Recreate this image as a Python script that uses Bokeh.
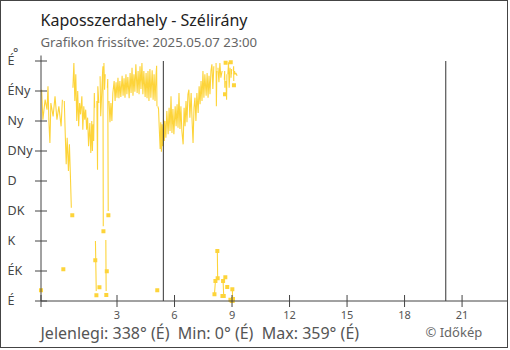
import numpy as np
from bokeh.plotting import figure
from bokeh.models import Label
from bokeh.core.properties import value
from bokeh.embed import file_html
from bokeh.resources import INLINE

title = "Kaposszerdahely - Szélirány"
subtitle = "Grafikon frissítve: 2025.05.07 23:00"
summary = "Jelenlegi: 338° (É) \u00a0Min: 0° (É) \u00a0Max: 359° (É)"
credit = "© Időkép"
unit_mark = "°"

dir_ticks = [0, 45, 90, 135, 180, 225, 270, 315, 360]
dir_labels = ["É", "ÉK", "K", "DK", "D", "DNy", "Ny", "ÉNy", "É"]
hour_ticks = [3, 6, 9, 12, 15, 18, 21]
hour_labels = ["3", "6", "9", "12", "15", "18", "21"]
sun_minutes = [325, 1209]  # sunrise, sunset (minutes after midnight)

# readings: minutes after midnight and wind direction (degrees); None = gap in the record
minutes = [
    -58, None,
    -56, -52, -45, -39, -36, -33, -30, -27, -20, -14, -8, -2, 5, 9, None,
    12, None,
    15, 18, 21, 24, 28, 31, 34, 37, None,
    40, None,
    42, 45, 48, 51, 54, 57, 60, 63, 66, 70, 73, 76, 79, 82, 85, 88, 91, 95, 98,
    101, 103, 105, 107, 109, 110, None,
    112, None,
    112.5, 114, 115, None,
    115.5, None,
    117, 119, 120, 123, None,
    125, None,
    127, 129, 132, 135, 136, 137, None,
    137.5, None,
    139, 141, 143, None,
    145, 145.5, 146, None,
    146.5, None,
    148, None,
    150, 151, 152.5, None,
    153, None,
    155, 158, 161, 164, 167, 171, 174, 177, 180, 183, 186, 189, 192, 196, 199,
    202, 205, 208, 211, 214, 218, 221, 224, 227, 230, 233, 236, 239, 243, 246,
    249, 252, 255, 258, 261, 264, 268, 271, 274, 277, 280, 283, 286, 290, 293,
    296, 299, 302, 304, 305, None,
    306, None,
    308, 310, 312, 315, 317, 319, 321, 323, 326, 328, 330, 333, 336, 340, 343,
    346, 349, 352, 355, 358, 362, 365, 368, 371, 374, 377, 380, 383, 387, 390,
    393, 396, 399, 402, 405, 408, 412, 415, 418, 421, 424, 427, 430, 434, 437,
    440, 443, 446, 449, 452, 455, 459, 462, 465, 468, 471, 474, 477, 480, 483, None,
    485, 488, None,
    490, 491, 492.5, None,
    494, 495, None,
    496, 499, 502, 505, 509, None,
    510, None,
    512, 514, None,
    516, 517, 517.5, None,
    518, None,
    519, None,
    520, None,
    521, 523, 524, None,
    525, None,
    527, 529, 531, 534, None,
    535, None,
    536, None,
    537, 538, 538.5, None,
    539, None,
    541, 542, None,
    543, None,
    544, 545, 545.5, None,
    546, None,
    548, 549, 552, 556,
]
direction = [
    16, None,
    317, 272, 302, 287, 322, 267, 237, 297, 277, 307, 272, 292, 262, 302, None,
    47.5, None,
    300, 250, 205, 245, 195, 235, 190, 140, None,
    128.5, None,
    320, 357, 300, 340, 270, 315, 262, 297, 280, 307, 257, 292, 272, 287, 257, 275, 232, 267, 222,
    270, 225, 265, 240, 312, 290, None,
    61, None,
    90, 45, 15, None,
    8.5, None,
    300, 197, 322, 297, None,
    20.5, None,
    337, 277, 310, 345, 352, 112, None,
    104.5, None,
    357, 317, 340, None,
    91.5, 50, 15, None,
    9, None,
    44.5, None,
    320, 333, 135, None,
    128.5, None,
    300, 268, 297, 270, 312, 330, 300, 328, 305, 335, 304, 330, 306, 338, 308,
    334, 305, 340, 310, 336, 304, 342, 312, 350, 308, 340, 314, 355, 312, 345,
    310, 352, 318, 357, 310, 345, 306, 342, 304, 345, 300, 348, 305, 346, 302,
    340, 300, 338, 353, 292, None,
    16, None,
    292, 288, 262, 228, 268, 224, 265, 232, 272, 240, 270, 245, 285, 250, 290,
    255, 307, 252, 288, 250, 292, 262, 295, 260, 312, 258, 292, 255, 235, 290,
    262, 300, 268, 310, 317, 275, 312, 270, 237, 290, 305, 270, 312, 282, 322,
    295, 330, 300, 345, 305, 340, 308, 342, 305, 338, 310, 345, 355, 318, 352, None,
    10, 30, None,
    357, 292, 345, None,
    75, 34, None,
    350, 328, 357, 335, 345, None,
    7.5, None,
    30, 7.5, None,
    332, 345, 320, None,
    310, None,
    35.5, None,
    357.5, None,
    330, 302, 340, None,
    21, None,
    340, 358, 320, 350, None,
    2, None,
    358, None,
    335, 348, 340, None,
    0, None,
    17.5, 0, None,
    3, None,
    345, 352, 330, None,
    323.5, None,
    345, 340, 342, 338,
]

FONT = "Noto Sans"
YELLOW = "#fdd43a"
AXIS = "#444444"

# pixel geometry of the reference (page coordinates)
PX_PER_H = 19.17
X_C0 = 59.0      # x of hour 0
Y_C0 = 300.5     # y of 0 degrees
DEG_PER_PX = 1.5
W, H = 508, 348  # canvas inside a 1px border
TEXT_SHIFT = 5.0  # baseline correction of the renderer, px


def hx(c):
    return (c - X_C0) / PX_PER_H


def dy(c):
    return (Y_C0 - c) * DEG_PER_PX


def base(c):
    # data y for a text whose baseline should sit at page y = c
    return dy(c - TEXT_SHIFT)


X0 = hx(40.5)          # vertical axis position
Y_TOP = dy(55.0)       # top of vertical axis line
TICK_H = 6 / PX_PER_H
TICK_D = 6 * DEG_PER_PX

hours = np.array([np.nan if m is None else m / 60.0 for m in minutes])
dirs = np.array([np.nan if d is None else float(d) for d in direction])

# runs of the record without gaps; short runs are shown with markers
valid = ~np.isnan(dirs)
mark = np.zeros(len(dirs), dtype=bool)
i = 0
while i < len(dirs):
    if valid[i]:
        j = i
        while j < len(dirs) and valid[j]:
            j += 1
        if j - i <= 2:
            mark[i:j] = True
        i = j
    else:
        i += 1

p = figure(width=W, height=H, x_range=(hx(1.0), hx(1.0 + W)), y_range=(dy(1.0 + H), dy(1.0)),
           output_backend="svg", toolbar_location=None,
           x_axis_location=None, y_axis_location=None,
           min_border=0, min_border_left=0, min_border_right=0, min_border_top=0, min_border_bottom=0)
p.styles = {"border": "1px solid #444444"}
p.xgrid.visible = False
p.ygrid.visible = False
p.outline_line_color = None
p.background_fill_color = "white"
p.border_fill_color = "white"

# data
p.line(hours, dirs, line_color=YELLOW, line_width=1.1)
p.scatter(hours[mark], dirs[mark], marker="square", size=4, fill_color=YELLOW, line_color=None)

# sunrise / sunset
sun_h = [m / 60.0 for m in sun_minutes]
p.segment(x0=sun_h, y0=[dir_ticks[0]] * len(sun_h), x1=sun_h, y1=[dir_ticks[-1]] * len(sun_h),
          line_color="#333333", line_width=1)

# axes
p.segment(x0=[X0, X0], y0=[dir_ticks[0], dir_ticks[0]], x1=[hx(1.0 + W), X0], y1=[dir_ticks[0], Y_TOP],
          line_color=AXIS, line_width=1)
xt = [X0] + hour_ticks
p.segment(x0=xt, y0=[-TICK_D] * len(xt), x1=xt, y1=[TICK_D] * len(xt), line_color=AXIS, line_width=1)
p.segment(x0=[X0 - TICK_H] * len(dir_ticks), y0=dir_ticks, x1=[X0 + TICK_H] * len(dir_ticks), y1=dir_ticks,
          line_color=AXIS, line_width=1)

p.text(x=hour_ticks, y=[base(319.5)] * len(hour_ticks), text=hour_labels,
       text_font=value(FONT), text_font_size="11px", text_color="#555555",
       text_align="center", text_baseline="alphabetic")

YL_SIZE = 12.5
cap_half = 0.714 * YL_SIZE / 2
p.text(x=[hx(7.0)] * len(dir_ticks), y=[d + dy(Y_C0 + cap_half - TEXT_SHIFT) for d in dir_ticks],
       text=dir_labels, text_font=value(FONT), text_font_size=f"{YL_SIZE}px", text_color="#444444",
       text_align="left", text_baseline="alphabetic")


def add_label(txt, cx, cy, size, color):
    p.add_layout(Label(x=hx(cx), y=base(cy), text=txt, text_font=FONT, text_font_size=size,
                       text_color=color, text_align="left", text_baseline="alphabetic"))


add_label(unit_mark, 12.5, 57.0, "12.5px", "#444444")
add_label(title, 40.0, 24.5, "16px", "#222222")
add_label(subtitle, 40.0, 46.7, "13.2px", "#666666")
add_label(summary, 40.0, 337.5, "16px", "#555555")
add_label(credit, 425.0, 336.8, "13px", "#666666")

open("out.html", "w").write(file_html(p, INLINE))
